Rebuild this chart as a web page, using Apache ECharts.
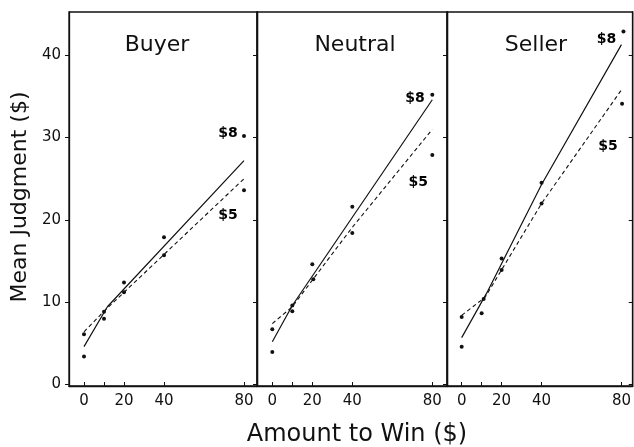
<!DOCTYPE html>
<html><head><meta charset="utf-8">
<script src="https://cdn.jsdelivr.net/npm/echarts@6/dist/echarts.min.js"></script>
<style>html,body{margin:0;padding:0;background:#fff}#c{width:634px;height:447px}</style>
</head><body><div id="c"></div>
<script>
// ---- data ----
const panelNames = ['Buyer', 'Neutral', 'Seller'];
const xTickValues = [0, 10, 20, 40, 80];
const xLabelValues = [0, 20, 40, 80];
const yTickValues = [0, 10, 20, 30, 40];

// observed means ($8 and $5 conditions)
const buyerPts8 = [[0, 3.4], [10, 8.85], [20, 12.4], [40, 17.9], [80, 30.2]];
const buyerPts5 = [[0, 6.1], [10, 8.0], [20, 11.2], [40, 15.7], [80, 23.6]];
const neutralPts8 = [[0, 3.95], [10, 9.6], [20, 14.6], [40, 21.6], [80, 35.2]];
const neutralPts5 = [[0, 6.7], [10, 8.9], [20.5, 12.8], [40, 18.4], [80, 27.9]];
const sellerPts8 = [[0, 4.6], [11, 10.4], [20, 15.3], [40, 24.5], [81, 42.9]];
const sellerPts5 = [[0, 8.2], [10, 8.65], [20, 13.9], [40, 22.0], [80.3, 34.1]];

// fitted curves
const buyerFit8 = [[0, 4.6], [11.7, 9.45], [80, 27.2]];
const buyerFit5 = [[0, 6.4], [10, 8.9], [80, 25.0]];
const neutralFit8 = [[0, 5.2], [10, 9.6], [80, 34.6]];
const neutralFit5 = [[0, 7.4], [10, 9.45], [40, 19.1], [80, 31.0]];
const sellerFit8 = [[0, 5.7], [12.5, 11.1], [40, 24.3], [80, 41.3]];
const sellerFit5 = [[0, 8.4], [11.7, 10.6], [40, 22.0], [80, 35.8]];

// curve labels and their anchor points (data coords)
const curveLabels = ['$8', '$5'];
const buyerLabelAt = [[72, 30.5], [72, 20.6]];
const neutralLabelAt = [[71.3, 34.8], [73, 24.6]];
const sellerLabelAt = [[72.5, 41.9], [73.3, 28.9]];

const yAxisTitle = 'Mean Judgment ($)';
const xAxisTitle = 'Amount to Win ($)';

// ---- layout ----
const FONT = 'DejaVu Sans';
const INK = '#111';
const gridsLayout = [
  {left: 69, width: 188, xmin: -7.5, xmax: 86.5},
  {left: 257, width: 190, xmin: -7.65, xmax: 87.35},
  {left: 447, width: 186, xmin: -7.35, xmax: 85.65}
];
const panelData = [
  {p8: buyerPts8, p5: buyerPts5, f8: buyerFit8, f5: buyerFit5, lab: buyerLabelAt},
  {p8: neutralPts8, p5: neutralPts5, f8: neutralFit8, f5: neutralFit5, lab: neutralLabelAt},
  {p8: sellerPts8, p5: sellerPts5, f8: sellerFit8, f5: sellerFit5, lab: sellerLabelAt}
];
const titleCenters = [[157, 45], [355, 45], [536, 45]];

const grid = [], xAxis = [], yAxis = [], series = [], graphic = [];
gridsLayout.forEach((g, i) => {
  grid.push({left: g.left, top: 12, width: g.width, height: 374, show: true,
    borderColor: INK, borderWidth: 1.3, backgroundColor: 'transparent'});
  xAxis.push({type: 'value', gridIndex: i, min: g.xmin, max: g.xmax,
    axisLine: {show: true, onZero: false, lineStyle: {color: INK, width: 1.3}},
    axisTick: {show: true, inside: true, length: 4, customValues: xTickValues, lineStyle: {color: INK}},
    axisLabel: {show: true, customValues: xLabelValues, margin: 8, color: INK, fontFamily: FONT, fontSize: 15},
    splitLine: {show: false}});
  yAxis.push({type: 'value', gridIndex: i, position: 'left', min: -0.18, max: 45.26,
    axisLine: {show: true, onZero: false, lineStyle: {color: INK, width: 1.3}},
    axisTick: {show: true, inside: false, length: 4, customValues: yTickValues, lineStyle: {color: INK}},
    axisLabel: {show: i === 0, customValues: yTickValues, margin: 8, color: INK, fontFamily: FONT, fontSize: 15},
    splitLine: {show: false}});
  yAxis.push({type: 'value', gridIndex: i, position: 'right', min: -0.18, max: 45.26,
    axisLine: {show: true, onZero: false, lineStyle: {color: INK, width: 1.3}},
    axisTick: {show: true, inside: true, length: 4, customValues: yTickValues, lineStyle: {color: INK}},
    axisLabel: {show: false}, splitLine: {show: false}});
  const d = panelData[i];
  const base = {xAxisIndex: i, yAxisIndex: 2 * i, silent: true, animation: false};
  series.push(Object.assign({type: 'line', data: d.f8, symbol: 'none',
    lineStyle: {color: INK, width: 1.2, type: 'solid'}}, base));
  series.push(Object.assign({type: 'line', data: d.f5, symbol: 'none',
    lineStyle: {color: INK, width: 1.1, type: [4, 3]}}, base));
  series.push(Object.assign({type: 'scatter', data: d.p8, symbol: 'circle', symbolSize: 4,
    itemStyle: {color: INK, opacity: 1}}, base));
  series.push(Object.assign({type: 'scatter', data: d.p5, symbol: 'circle', symbolSize: 4,
    itemStyle: {color: INK, opacity: 1}}, base));
  series.push(Object.assign({type: 'scatter', symbolSize: 0,
    itemStyle: {opacity: 1},
    data: d.lab.map((v, k) => ({name: curveLabels[k], value: v})),
    label: {show: true, position: 'inside', formatter: '{b}', color: '#000',
      fontFamily: FONT, fontSize: 14, fontWeight: 'bold'}}, base));
  graphic.push({type: 'text', x: titleCenters[i][0], y: titleCenters[i][1],
    style: {text: panelNames[i], fill: INK, font: '22px "' + FONT + '"', textAlign: 'center', textVerticalAlign: 'middle'}});
});
graphic.push({type: 'text', x: 20, y: 197, rotation: Math.PI / 2,
  style: {text: yAxisTitle, fill: INK, font: '22px "' + FONT + '"', textAlign: 'center', textVerticalAlign: 'middle'}});
graphic.push({type: 'text', x: 357, y: 435,
  style: {text: xAxisTitle, fill: INK, font: '24px "' + FONT + '"', textAlign: 'center', textVerticalAlign: 'middle'}});

const chart = echarts.init(document.getElementById('c'), null, {renderer: 'canvas'});
chart.setOption({backgroundColor: '#fff', animation: false, grid, xAxis, yAxis, series, graphic});
</script></body></html>
